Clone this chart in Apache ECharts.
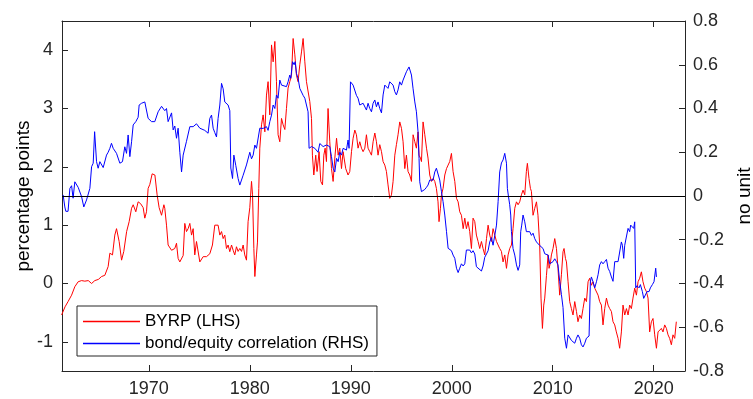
<!DOCTYPE html>
<html>
<head>
<meta charset="utf-8">
<script src="https://cdn.jsdelivr.net/npm/echarts@6/dist/echarts.min.js"></script>
<style>html,body{margin:0;padding:0;background:#fff;}#chart{width:753px;height:399px;}</style>
</head>
<body>
<div id="chart"></div>
<script>
// X tick labels (years)
const xTicks = [1970, 1980, 1990, 2000, 2010, 2020];
const leftTicks = [-1, 0, 1, 2, 3, 4];
const rightTicks = [-0.8, -0.6, -0.4, -0.2, 0, 0.2, 0.4, 0.6, 0.8];

// BYRP (LHS), percentage points
const byrpYears = [
1961.36,1961.7,1962.0,1962.35,1962.67,1963.0,1963.34,1963.66,1964.0,1964.33,
1964.65,1965.0,1965.32,1965.64,1965.97,1966.14,1966.4,1966.63,1966.8,1967.06,
1967.3,1967.52,1967.8,1968.05,1968.29,1968.45,1968.71,1968.94,1969.18,1969.44,
1969.6,1969.77,1969.93,1970.1,1970.33,1970.6,1970.82,1971.02,1971.26,1971.49,
1971.58,1971.75,1971.91,1972.25,1972.57,1972.74,1972.9,1973.07,1973.4,1973.56,
1973.73,1973.89,1974.06,1974.23,1974.39,1974.55,1974.72,1975.05,1975.38,1975.71,
1976.04,1976.3,1976.53,1976.86,1977.03,1977.2,1977.36,1977.52,1977.69,1977.85,
1978.02,1978.19,1978.35,1978.51,1978.68,1978.84,1979.01,1979.18,1979.34,1979.5,
1979.67,1979.83,1980.0,1980.17,1980.27,1980.4,1980.5,1980.66,1980.76,1980.89,
1980.99,1981.16,1981.32,1981.49,1981.65,1981.81,1981.98,1982.15,1982.31,1982.48,
1982.64,1982.8,1982.97,1983.14,1983.3,1983.47,1983.63,1983.79,1983.96,1984.13,
1984.29,1984.46,1984.62,1984.78,1984.95,1985.12,1985.28,1985.45,1985.61,1985.77,
1985.94,1986.11,1986.2,1986.34,1986.53,1986.66,1986.86,1987.03,1987.2,1987.33,
1987.46,1987.59,1987.75,1987.92,1988.09,1988.25,1988.42,1988.59,1988.75,1988.91,
1989.08,1989.24,1989.5,1989.73,1989.9,1990.07,1990.23,1990.4,1990.56,1990.72,
1990.89,1991.06,1991.22,1991.39,1991.55,1991.71,1991.88,1992.05,1992.21,1992.38,
1992.54,1992.7,1992.87,1993.04,1993.2,1993.37,1993.53,1993.69,1993.86,1994.03,
1994.19,1994.36,1994.52,1994.68,1994.85,1995.02,1995.18,1995.35,1995.51,1995.67,
1995.84,1996.01,1996.17,1996.34,1996.5,1996.66,1996.76,1996.9,1997.0,1997.16,
1997.33,1997.5,1997.65,1997.82,1997.99,1998.15,1998.32,1998.48,1998.64,1998.74,
1998.88,1998.98,1999.14,1999.31,1999.48,1999.64,1999.8,1999.97,2000.13,2000.3,
2000.47,2000.63,2000.79,2000.96,2001.13,2001.29,2001.45,2001.61,2001.78,2001.95,
2002.11,2002.28,2002.44,2002.61,2002.77,2002.94,2003.1,2003.27,2003.44,2003.6,
2003.76,2003.93,2004.09,2004.26,2004.43,2004.59,2004.75,2004.92,2005.08,2005.25,
2005.42,2005.58,2005.74,2005.91,2006.07,2006.24,2006.41,2006.57,2006.73,2006.9,
2007.06,2007.23,2007.39,2007.49,2007.65,2007.79,2007.89,2008.05,2008.22,2008.39,
2008.54,2008.71,2008.84,2008.98,2009.11,2009.21,2009.38,2009.54,2009.64,2009.78,
2009.87,2010.03,2010.2,2010.37,2010.52,2010.69,2010.86,2011.02,2011.12,2011.26,
2011.36,2011.52,2011.68,2011.85,2012.01,2012.18,2012.35,2012.5,2012.67,2012.84,
2013.0,2013.17,2013.34,2013.5,2013.66,2013.83,2013.99,2014.16,2014.33,2014.49,
2014.65,2014.82,2014.98,2015.15,2015.32,2015.48,2015.64,2015.81,2015.97,2016.14,
2016.3,2016.47,2016.63,2016.8,2016.96,2017.13,2017.3,2017.46,2017.62,2017.79,
2017.95,2018.12,2018.29,2018.45,2018.61,2018.78,2018.94,2019.11,2019.28,2019.44,
2019.6,2019.77,2019.93,2020.1,2020.27,2020.43,2020.59,2020.76,2020.92,2021.09,
2021.26,2021.42,2021.58,2021.75,2021.91,2022.08,2022.24
];
const byrpValues = [
-0.54,-0.4,-0.31,-0.2,-0.055,0.03,0.05,0.04,0.05,0.0,
0.05,0.07,0.12,0.14,0.29,0.52,0.49,0.83,0.94,0.72,
0.4,0.55,0.89,1.06,1.29,1.35,1.23,1.4,1.37,1.3,
1.12,1.23,1.63,1.7,1.88,1.86,1.52,1.3,1.17,1.35,
1.29,1.0,0.66,0.57,0.6,0.69,0.43,0.37,0.48,1.03,
0.89,0.94,1.03,0.83,0.94,0.49,0.72,0.37,0.46,0.46,
0.51,0.66,1.0,1.0,0.83,0.89,0.77,0.83,0.6,0.66,
0.545,0.66,0.57,0.49,0.63,0.55,0.6,0.55,0.66,0.49,
0.4,1.06,1.3,1.75,1.52,0.6,0.12,0.49,0.71,1.63,
2.32,2.72,2.89,2.6,3.23,3.46,2.89,4.09,3.8,4.15,
3.46,2.55,2.43,2.83,2.72,2.64,3.0,3.35,3.46,3.57,
4.2,3.92,3.57,3.46,3.75,3.97,4.2,3.8,3.46,3.46,
3.12,2.83,2.2,1.86,2.2,1.92,2.26,1.75,1.69,2.2,
2.32,2.09,3.0,2.43,1.97,1.75,2.15,2.49,2.2,2.32,
1.97,2.26,1.97,1.86,1.92,2.26,2.49,2.63,2.55,2.32,
2.43,2.32,2.26,2.32,2.55,2.32,2.26,2.2,2.43,2.58,
2.43,2.2,2.38,2.26,2.09,2.03,1.92,1.69,1.46,1.52,
1.75,2.2,2.38,2.55,2.77,2.66,2.43,1.97,2.2,1.92,
1.86,1.75,2.55,2.43,2.32,2.6,2.2,2.15,2.09,2.77,
2.55,2.32,2.15,1.86,1.75,1.8,1.75,1.63,1.4,1.06,
1.29,1.52,1.63,1.86,1.97,2.03,2.09,2.23,1.92,1.75,
1.46,1.4,1.23,1.17,0.94,1.12,0.94,1.06,0.89,0.6,
1.12,1.06,0.83,0.72,0.6,0.72,0.6,0.49,0.77,1.0,
0.83,0.72,0.94,0.83,0.72,0.66,0.6,0.55,0.37,0.49,
0.26,0.49,0.6,0.66,0.94,1.29,1.4,1.35,1.4,1.52,
1.6,1.52,1.92,2.06,1.8,1.63,1.58,1.17,1.29,1.4,
1.17,0.66,-0.25,-0.77,-0.37,-0.25,0.14,0.49,0.26,0.37,
0.49,0.6,0.77,0.6,0.26,-0.2,0.15,0.545,0.6,0.43,
0.37,0.03,-0.31,-0.43,-0.54,-0.31,-0.48,-0.655,-0.54,-0.6,
-0.43,-0.25,-0.31,0.03,0.09,-0.03,0.03,-0.08,-0.05,-0.2,
-0.31,-0.37,-0.71,-0.43,-0.25,-0.37,-0.43,-0.48,-0.655,-0.71,
-0.83,-0.94,-1.11,-0.83,-0.37,-0.54,-0.43,-0.54,-0.37,-0.43,
-0.25,-0.08,-0.2,0.03,0.09,0.2,0.03,-0.08,-0.14,-0.25,
-0.83,-0.655,-0.6,-0.88,-1.11,-0.83,-0.83,-0.77,-0.83,-0.71,
-0.77,-0.88,-0.94,-1.05,-0.88,-0.94,-0.655
];

// bond/equity correlation (RHS), no unit
const corrYears = [
1961.51,1961.68,1961.78,1962.0,1962.18,1962.35,1962.5,1962.67,1963.0,1963.34,
1963.56,1963.83,1964.16,1964.33,1964.49,1964.63,1964.82,1964.98,1965.15,1965.48,
1965.64,1965.81,1965.97,1966.14,1966.3,1966.47,1966.8,1967.13,1967.39,1967.62,
1967.79,1967.95,1968.12,1968.29,1968.45,1968.71,1968.94,1969.04,1969.28,1969.6,
1969.77,1969.93,1970.27,1970.59,1970.92,1971.26,1971.58,1971.75,1971.91,1972.25,
1972.41,1972.57,1972.74,1972.9,1973.07,1973.24,1973.4,1973.73,1974.06,1974.39,
1974.72,1975.05,1975.54,1975.87,1976.04,1976.21,1976.37,1976.53,1976.7,1976.86,
1977.03,1977.2,1977.36,1977.52,1977.85,1978.02,1978.12,1978.29,1978.42,1978.61,
1978.84,1979.01,1979.34,1979.67,1980.0,1980.17,1980.33,1980.5,1980.66,1980.99,
1981.32,1981.65,1981.81,1981.98,1982.15,1982.31,1982.48,1982.64,1982.8,1982.97,
1983.14,1983.3,1983.63,1983.79,1983.96,1984.06,1984.23,1984.39,1984.49,1984.62,
1984.78,1984.95,1985.12,1985.28,1985.45,1985.61,1985.77,1985.87,1986.11,1986.44,
1986.76,1986.93,1987.26,1987.59,1987.92,1988.09,1988.25,1988.42,1988.59,1988.75,
1988.91,1989.08,1989.24,1989.57,1989.73,1989.83,1989.97,1990.23,1990.4,1990.56,
1990.72,1990.89,1991.06,1991.22,1991.39,1991.55,1991.71,1991.88,1992.05,1992.21,
1992.38,1992.54,1992.7,1992.87,1993.04,1993.2,1993.37,1993.53,1993.69,1993.86,
1994.03,1994.19,1994.36,1994.52,1994.68,1994.85,1995.02,1995.18,1995.35,1995.51,
1995.77,1996.01,1996.17,1996.34,1996.5,1996.66,1996.76,1996.83,1997.0,1997.16,
1997.33,1997.5,1997.65,1997.82,1998.15,1998.32,1998.48,1998.64,1998.81,1998.98,
1999.14,1999.31,1999.48,1999.64,1999.97,2000.13,2000.3,2000.47,2000.63,2000.79,
2000.96,2001.13,2001.29,2001.45,2001.78,2001.95,2002.11,2002.28,2002.44,2002.61,
2002.94,2003.1,2003.27,2003.44,2003.6,2003.76,2003.93,2004.09,2004.26,2004.43,
2004.59,2004.75,2004.92,2005.08,2005.25,2005.35,2005.42,2005.51,2005.61,2005.74,
2005.84,2005.91,2006.07,2006.24,2006.41,2006.57,2006.73,2006.83,2006.93,2007.06,
2007.23,2007.39,2007.56,2007.72,2007.89,2008.05,2008.22,2008.39,2008.71,2008.88,
2009.04,2009.21,2009.38,2009.54,2009.7,2010.03,2010.2,2010.37,2010.52,2010.69,
2010.86,2011.02,2011.19,2011.36,2011.52,2011.68,2011.85,2012.01,2012.18,2012.35,
2012.5,2012.67,2012.84,2013.0,2013.17,2013.34,2013.6,2013.73,2013.83,2013.99,
2014.16,2014.33,2014.49,2014.65,2014.82,2014.98,2015.15,2015.32,2015.48,2015.64,
2015.81,2015.97,2016.14,2016.3,2016.47,2016.63,2016.8,2016.9,2017.03,2017.13,
2017.3,2017.46,2017.62,2017.72,2017.89,2018.02,2018.12,2018.22,2018.35,2018.55,
2018.68,2018.88,2019.01,2019.18,2019.34,2019.54,2019.67,2019.87,2020.03,2020.2,2020.27
];
const corrValues = [
0.005,-0.05,-0.07,-0.07,0.035,0.047,-0.01,0.065,0.04,-0.003,
-0.05,-0.018,0.035,0.134,0.15,0.294,0.157,0.127,0.157,0.13,
0.127,0.187,0.2,0.218,0.241,0.218,0.195,0.15,0.157,0.225,
0.195,0.279,0.18,0.248,0.325,0.34,0.36,0.416,0.424,0.43,
0.424,0.355,0.34,0.34,0.385,0.41,0.39,0.4,0.34,0.38,
0.302,0.32,0.264,0.31,0.2,0.11,0.187,0.25,0.317,0.317,
0.33,0.31,0.3,0.287,0.355,0.37,0.31,0.29,0.27,0.355,
0.416,0.515,0.49,0.43,0.416,0.39,0.128,0.08,0.187,0.14,
0.08,0.05,0.095,0.142,0.2,0.17,0.187,0.233,0.218,0.31,
0.309,0.317,0.3,0.34,0.37,0.416,0.4,0.462,0.447,0.53,
0.507,0.515,0.5,0.522,0.553,0.538,0.614,0.6,0.614,0.56,
0.538,0.492,0.5,0.46,0.447,0.44,0.385,0.218,0.226,0.218,
0.2,0.24,0.226,0.233,0.226,0.18,0.127,0.11,0.172,0.157,
0.2,0.187,0.218,0.21,0.256,0.218,0.522,0.507,0.515,0.46,
0.447,0.416,0.408,0.424,0.416,0.393,0.424,0.4,0.385,0.424,
0.439,0.408,0.43,0.4,0.38,0.462,0.507,0.5,0.492,0.522,
0.53,0.507,0.477,0.462,0.485,0.522,0.507,0.53,0.53,0.568,
0.59,0.553,0.49,0.43,0.385,0.294,0.172,0.065,0.02,0.015,
0.03,0.04,0.05,0.073,0.073,0.11,0.127,0.12,0.073,0.02,
-0.026,-0.087,-0.163,-0.239,-0.25,-0.27,-0.285,-0.33,-0.35,-0.33,
-0.31,-0.32,-0.31,-0.247,-0.247,-0.26,-0.25,-0.265,-0.323,-0.33,
-0.343,-0.32,-0.28,-0.265,-0.25,-0.21,-0.19,-0.225,-0.18,-0.133,
-0.026,0.11,0.151,0.165,0.195,0.2,0.15,0.035,0.0,-0.04,
-0.087,-0.163,-0.24,-0.27,-0.315,-0.34,-0.315,-0.163,-0.133,-0.087,
-0.118,-0.163,-0.155,-0.163,-0.18,-0.17,-0.195,-0.21,-0.226,-0.233,
-0.24,-0.264,-0.256,-0.27,-0.31,-0.3,-0.287,-0.3,-0.315,-0.39,
-0.45,-0.51,-0.65,-0.696,-0.635,-0.64,-0.66,-0.66,-0.673,-0.65,
-0.635,-0.65,-0.68,-0.69,-0.673,-0.65,-0.64,-0.392,-0.37,-0.392,
-0.42,-0.392,-0.36,-0.315,-0.3,-0.31,-0.3,-0.29,-0.33,-0.345,
-0.37,-0.39,-0.3,-0.292,-0.3,-0.292,-0.21,-0.225,-0.285,-0.225,
-0.233,-0.148,-0.163,-0.133,-0.125,-0.148,-0.118,-0.42,-0.41,-0.42,
-0.405,-0.437,-0.468,-0.468,-0.437,-0.437,-0.42,-0.405,-0.392,-0.33,-0.37
];

const byrpData = byrpYears.map((y, i) => [y, byrpValues[i]]);
const corrData = corrYears.map((y, i) => [y, corrValues[i]]);

const axisColor = '#262626';
const font = 'Liberation Sans, Arial, sans-serif';

const chart = echarts.init(document.getElementById('chart'), null, {renderer: 'canvas'});
chart.setOption({
  animation: false,
  backgroundColor: '#ffffff',
  grid: {left: 62, right: 68, top: 21, bottom: 28, containLabel: false, outerBoundsMode: 'none'},
  legend: {
    left: 77, top: 306,
    orient: 'vertical',
    icon: 'rect',
    itemWidth: 57, itemHeight: 1.5,
    itemGap: 5,
    padding: [7, 8, 4, 6],
    borderColor: axisColor, borderWidth: 1,
    backgroundColor: '#fff',
    textStyle: {fontFamily: font, fontSize: 17, color: '#000'},
    data: ['BYRP (LHS)', 'bond/equity correlation (RHS)']
  },
  graphic: [{
    type: 'text',
    x: 745, y: 196,
    rotation: Math.PI / 2,
    style: {
      text: 'no unit', fill: '#000',
      font: '19px "Liberation Sans", Arial, sans-serif',
      align: 'center', verticalAlign: 'middle'
    }
  }],
  xAxis: [{
    type: 'value', min: 1961.4, max: 2023.1, position: 'bottom',
    axisLine: {show: true, onZero: false, lineStyle: {color: axisColor}},
    axisTick: {show: true, inside: true, length: 6, customValues: xTicks, lineStyle: {color: axisColor}},
    axisLabel: {customValues: xTicks, formatter: v => String(v), fontFamily: font, fontSize: 18, color: axisColor, margin: 9},
    splitLine: {show: false}
  }, {
    type: 'value', min: 1961.4, max: 2023.1, position: 'top',
    axisLine: {show: true, onZero: false, lineStyle: {color: axisColor}},
    axisTick: {show: true, inside: true, length: 6, customValues: xTicks, lineStyle: {color: axisColor}},
    axisLabel: {show: false},
    splitLine: {show: false}
  }],
  yAxis: [{
    type: 'value', min: -1.5, max: 4.5, position: 'left',
    name: 'percentage points', nameLocation: 'middle', nameRotate: 90, nameGap: 29,
    nameMoveOverlap: false,
    nameTextStyle: {fontFamily: font, fontSize: 19, color: '#000'},
    axisLine: {show: true, onZero: false, lineStyle: {color: axisColor}},
    axisTick: {show: true, inside: true, length: 6, customValues: leftTicks, lineStyle: {color: axisColor}},
    axisLabel: {customValues: leftTicks, fontFamily: font, fontSize: 18, color: axisColor, margin: 9},
    splitLine: {show: false}
  }, {
    type: 'value', min: -0.8, max: 0.8, position: 'right',
    axisLine: {show: true, onZero: false, lineStyle: {color: axisColor}},
    axisTick: {show: true, inside: true, length: 6, customValues: rightTicks, lineStyle: {color: axisColor}},
    axisLabel: {customValues: rightTicks, fontFamily: font, fontSize: 18, color: axisColor, margin: 8},
    splitLine: {show: false}
  }],
  series: [{
    name: 'BYRP (LHS)', type: 'line', xAxisIndex: 0, yAxisIndex: 0,
    data: byrpData, showSymbol: false, symbol: 'none',
    lineStyle: {color: '#ff0000', width: 1}, itemStyle: {color: '#ff0000'}
  }, {
    name: 'bond/equity correlation (RHS)', type: 'line', xAxisIndex: 0, yAxisIndex: 1,
    data: corrData, showSymbol: false, symbol: 'none',
    lineStyle: {color: '#0000ff', width: 1}, itemStyle: {color: '#0000ff'},
    markLine: {
      silent: true, symbol: 'none', label: {show: false},
      lineStyle: {color: '#000', width: 1, type: 'solid'},
      data: [{yAxis: 0}]
    }
  }]
});
</script>
</body>
</html>
